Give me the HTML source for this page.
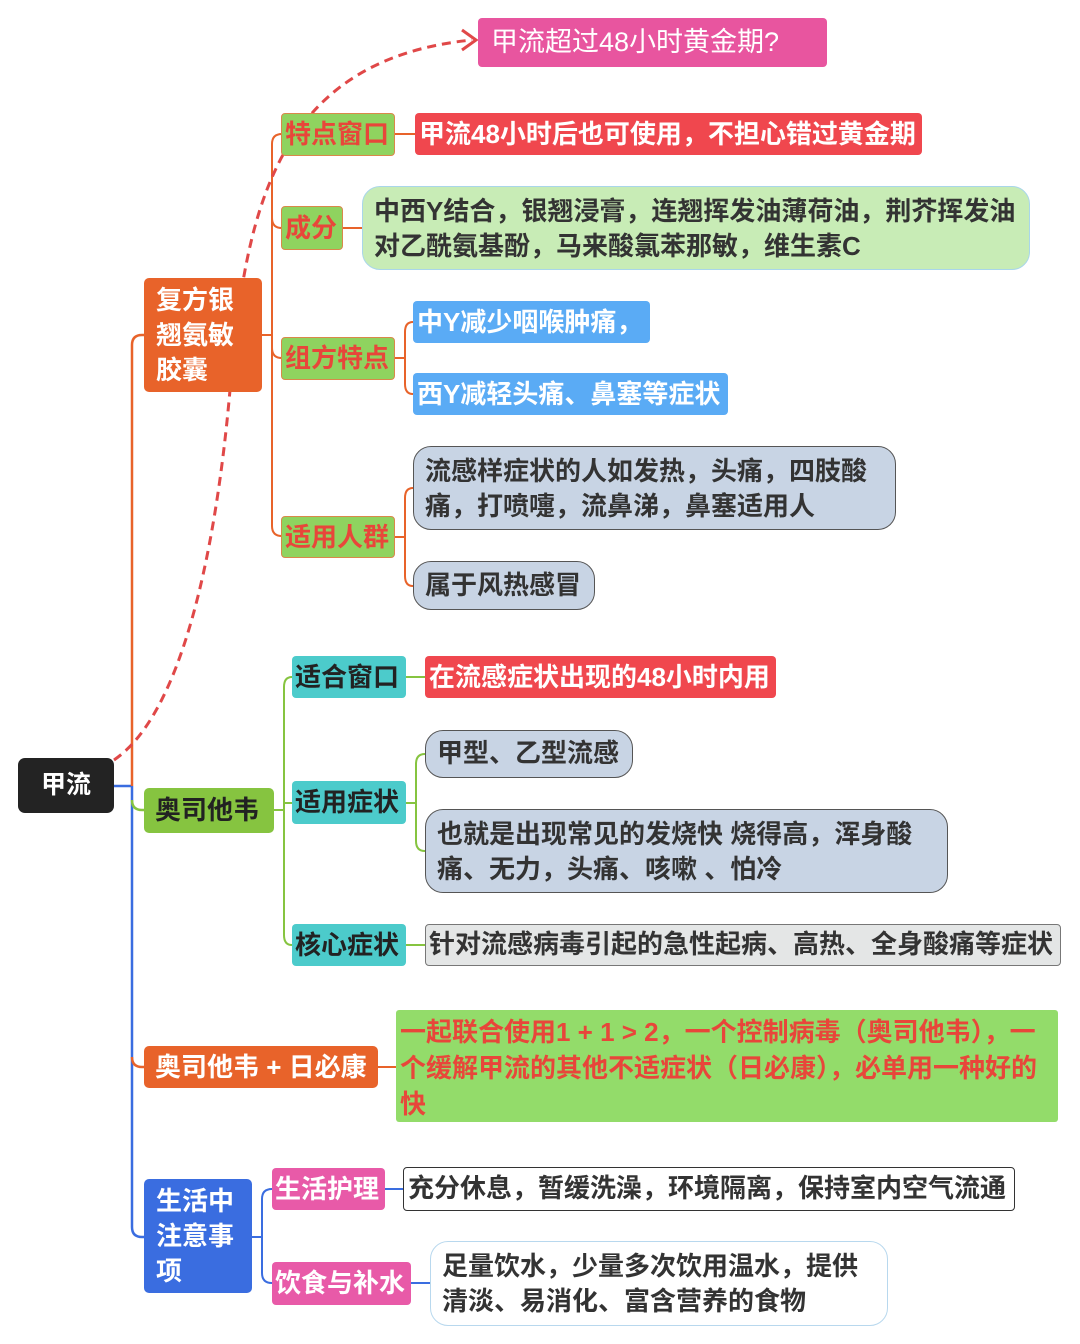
<!DOCTYPE html>
<html><head><meta charset="utf-8">
<style>
body{margin:0;width:1080px;height:1344px;background:#fff;position:relative;overflow:hidden;font-family:"Liberation Sans","Noto Sans CJK SC",sans-serif;}
.n{position:absolute;box-sizing:border-box;font-weight:bold;font-size:26px;line-height:34px;white-space:nowrap;}
svg{position:absolute;left:0;top:0;}
</style></head><body>
<svg width="1080" height="1344" fill="none">
<path d="M114 786 H132" stroke="#3a6de0" stroke-width="2.5"/>
<path d="M132 786 V345 Q132 335 142 335 H144" stroke="#e8632a" stroke-width="2.5"/>
<path d="M132 786 V1227 Q132 1237 142 1237 H144" stroke="#3a6de0" stroke-width="2.5"/>
<path d="M132 800 Q132 810 142 810 H144" stroke="#86c440" stroke-width="2.5"/>
<path d="M132 1057 Q132 1067 142 1067 H144" stroke="#e8632a" stroke-width="2.5"/>
<g stroke="#e8632a" stroke-width="2">
<path d="M262 335 H272"/>
<path d="M272 526 V144 Q272 134 282 134"/>
<path d="M272 218 Q272 228 282 228"/>
<path d="M272 348 Q272 358 282 358"/>
<path d="M272 526 Q272 536 282 536"/>
<path d="M395 134 H415"/>
<path d="M343 228 H362"/>
<path d="M395 358 H405 M405 358 V332 Q405 322 413 322 M405 358 V384 Q405 394 413 394"/>
<path d="M395 537 H405 M405 537 V498 Q405 488 413 488 M405 537 V576 Q405 586 413 586"/>
</g>
<g stroke="#86c440" stroke-width="2">
<path d="M274 810 H284"/>
<path d="M284 935 V687 Q284 677 292 677"/>
<path d="M284 803 H292"/>
<path d="M284 935 Q284 945 292 945"/>
<path d="M406 677 H425"/>
<path d="M406 803 H416 M416 803 V764 Q416 754 425 754 M416 803 V841 Q416 851 425 851"/>
<path d="M406 945 H425"/>
</g>
<path d="M378 1067 H396" stroke="#e8632a" stroke-width="2"/>
<g stroke="#3a6de0" stroke-width="2">
<path d="M252 1237 H262 M262 1237 V1199 Q262 1189 272 1189 M262 1237 V1273 Q262 1283 272 1283"/>
<path d="M385 1189 H403"/>
<path d="M411 1283 H430"/>
</g>
<path d="M114 760 C180 715 215 560 230 390 C245 220 270 60 472 40" stroke="#e04848" stroke-width="3" stroke-dasharray="9 6"/>
<path d="M462 30 L476 40 L462 50" stroke="#e04848" stroke-width="3"/>
</svg>

<div class="n" style="left:18px;top:758px;width:96px;height:55px;background:#232323;color:#fff;border-radius:7px;text-align:center;line-height:55px;font-size:25px;">甲流</div>
<div class="n" style="left:478px;top:18px;width:349px;height:49px;background:#e8559f;color:#fff;border-radius:4px;font-weight:normal;padding-left:13px;line-height:49px;font-size:27px;">甲流超过48小时黄金期?</div>

<div class="n" style="left:144px;top:278px;width:118px;height:114px;background:#e8632a;color:#fff;border-radius:5px;padding:5px 0 0 12px;white-space:normal;line-height:35px;">复方银<br>翘氨敏<br>胶囊</div>
<div class="n" style="left:281px;top:113px;width:114px;height:43px;background:#8fd35f;color:#e8463a;border:1px solid #d9884a;border-radius:4px;padding-left:3px;line-height:41px;">特点窗口</div>
<div class="n" style="left:281px;top:206px;width:62px;height:44px;background:#8fd35f;color:#e8463a;border:1px solid #d9884a;border-radius:4px;padding-left:3px;line-height:42px;">成分</div>
<div class="n" style="left:281px;top:337px;width:114px;height:43px;background:#8fd35f;color:#e8463a;border:1px solid #d9884a;border-radius:4px;padding-left:3px;line-height:41px;">组方特点</div>
<div class="n" style="left:281px;top:516px;width:114px;height:42px;background:#8fd35f;color:#e8463a;border:1px solid #d9884a;border-radius:4px;padding-left:3px;line-height:40px;">适用人群</div>

<div class="n" style="left:415px;top:113px;width:507px;height:42px;background:#f0474e;color:#fff;border-radius:4px;padding-left:4px;line-height:42px;">甲流48小时后也可使用，不担心错过黄金期</div>
<div class="n" style="left:362px;top:186px;width:668px;height:84px;background:#c8ecb6;color:#333;border:1.5px solid #a9d6ea;border-radius:18px;padding:7px 0 0 11px;line-height:35px;">中西Y结合，银翘浸膏，连翘挥发油薄荷油，荆芥挥发油<br>对乙酰氨基酚，马来酸氯苯那敏，维生素C</div>
<div class="n" style="left:413px;top:301px;width:237px;height:42px;background:#5aabf5;color:#fff;border-radius:4px;padding-left:4px;line-height:42px;">中Y减少咽喉肿痛，</div>
<div class="n" style="left:413px;top:373px;width:315px;height:42px;background:#5aabf5;color:#fff;border-radius:4px;padding-left:4px;line-height:42px;">西Y减轻头痛、鼻塞等症状</div>
<div class="n" style="left:413px;top:446px;width:483px;height:84px;background:#c8d4e4;color:#333;border:1.5px solid #555;border-radius:18px;padding:7px 0 0 11px;line-height:35px;">流感样症状的人如发热，头痛，四肢酸<br>痛，打喷嚏，流鼻涕，鼻塞适用人</div>
<div class="n" style="left:413px;top:561px;width:182px;height:49px;background:#c8d4e4;color:#333;border:1.5px solid #555;border-radius:18px;padding-left:11px;line-height:46px;">属于风热感冒</div>

<div class="n" style="left:144px;top:788px;width:130px;height:45px;background:#86c440;color:#222;border-radius:5px;padding-left:11px;line-height:45px;">奥司他韦</div>
<div class="n" style="left:292px;top:656px;width:114px;height:42px;background:#4ccbcb;color:#222;border-radius:4px;padding-left:3px;line-height:42px;">适合窗口</div>
<div class="n" style="left:292px;top:781px;width:114px;height:43px;background:#4ccbcb;color:#222;border-radius:4px;padding-left:3px;line-height:43px;">适用症状</div>
<div class="n" style="left:292px;top:924px;width:114px;height:42px;background:#4ccbcb;color:#222;border-radius:4px;padding-left:3px;line-height:42px;">核心症状</div>
<div class="n" style="left:425px;top:656px;width:351px;height:42px;background:#f0474e;color:#fff;border-radius:4px;padding-left:4px;line-height:42px;">在流感症状出现的48小时内用</div>
<div class="n" style="left:425px;top:730px;width:208px;height:48px;background:#c8d4e4;color:#333;border:1.5px solid #555;border-radius:18px;padding-left:11px;line-height:45px;">甲型、乙型流感</div>
<div class="n" style="left:425px;top:809px;width:523px;height:84px;background:#c8d4e4;color:#333;border:1.5px solid #555;border-radius:18px;padding:7px 0 0 11px;line-height:35px;">也就是出现常见的发烧快 烧得高，浑身酸<br>痛、无力，头痛、咳嗽 、怕冷</div>
<div class="n" style="left:425px;top:924px;width:636px;height:42px;background:#e4e6e6;color:#333;border:1.5px solid #777;border-radius:4px;padding-left:3px;line-height:39px;">针对流感病毒引起的急性起病、高热、全身酸痛等症状</div>

<div class="n" style="left:144px;top:1046px;width:234px;height:42px;background:#e8632a;color:#fff;border-radius:5px;padding-left:11px;line-height:42px;">奥司他韦 + 日必康</div>
<div class="n" style="left:396px;top:1010px;width:662px;height:112px;background:#93dc6a;color:#e8463a;border-radius:3px;padding:4px 0 0 4px;line-height:36px;">一起联合使用1 + 1 &gt; 2，一个控制病毒（奥司他韦），一<br>个缓解甲流的其他不适症状（日必康），必单用一种好的<br>快</div>

<div class="n" style="left:144px;top:1179px;width:108px;height:114px;background:#3a6de0;color:#fff;border-radius:5px;padding:5px 0 0 12px;line-height:35px;">生活中<br>注意事<br>项</div>
<div class="n" style="left:272px;top:1168px;width:113px;height:42px;background:#e85aa8;color:#fff;border-radius:4px;padding-left:3px;line-height:42px;">生活护理</div>
<div class="n" style="left:272px;top:1262px;width:139px;height:43px;background:#e85aa8;color:#fff;border-radius:4px;padding-left:3px;line-height:43px;">饮食与补水</div>
<div class="n" style="left:403px;top:1167px;width:612px;height:44px;background:#fff;color:#333;border:1.5px solid #333;border-radius:4px;padding-left:4px;line-height:41px;">充分休息，暂缓洗澡，环境隔离，保持室内空气流通</div>
<div class="n" style="left:430px;top:1241px;width:458px;height:85px;background:#fff;color:#333;border:1.5px solid #b8d8ee;border-radius:18px;padding:7px 0 0 11px;line-height:35px;">足量饮水，少量多次饮用温水，提供<br>清淡、易消化、富含营养的食物</div>
</body></html>
